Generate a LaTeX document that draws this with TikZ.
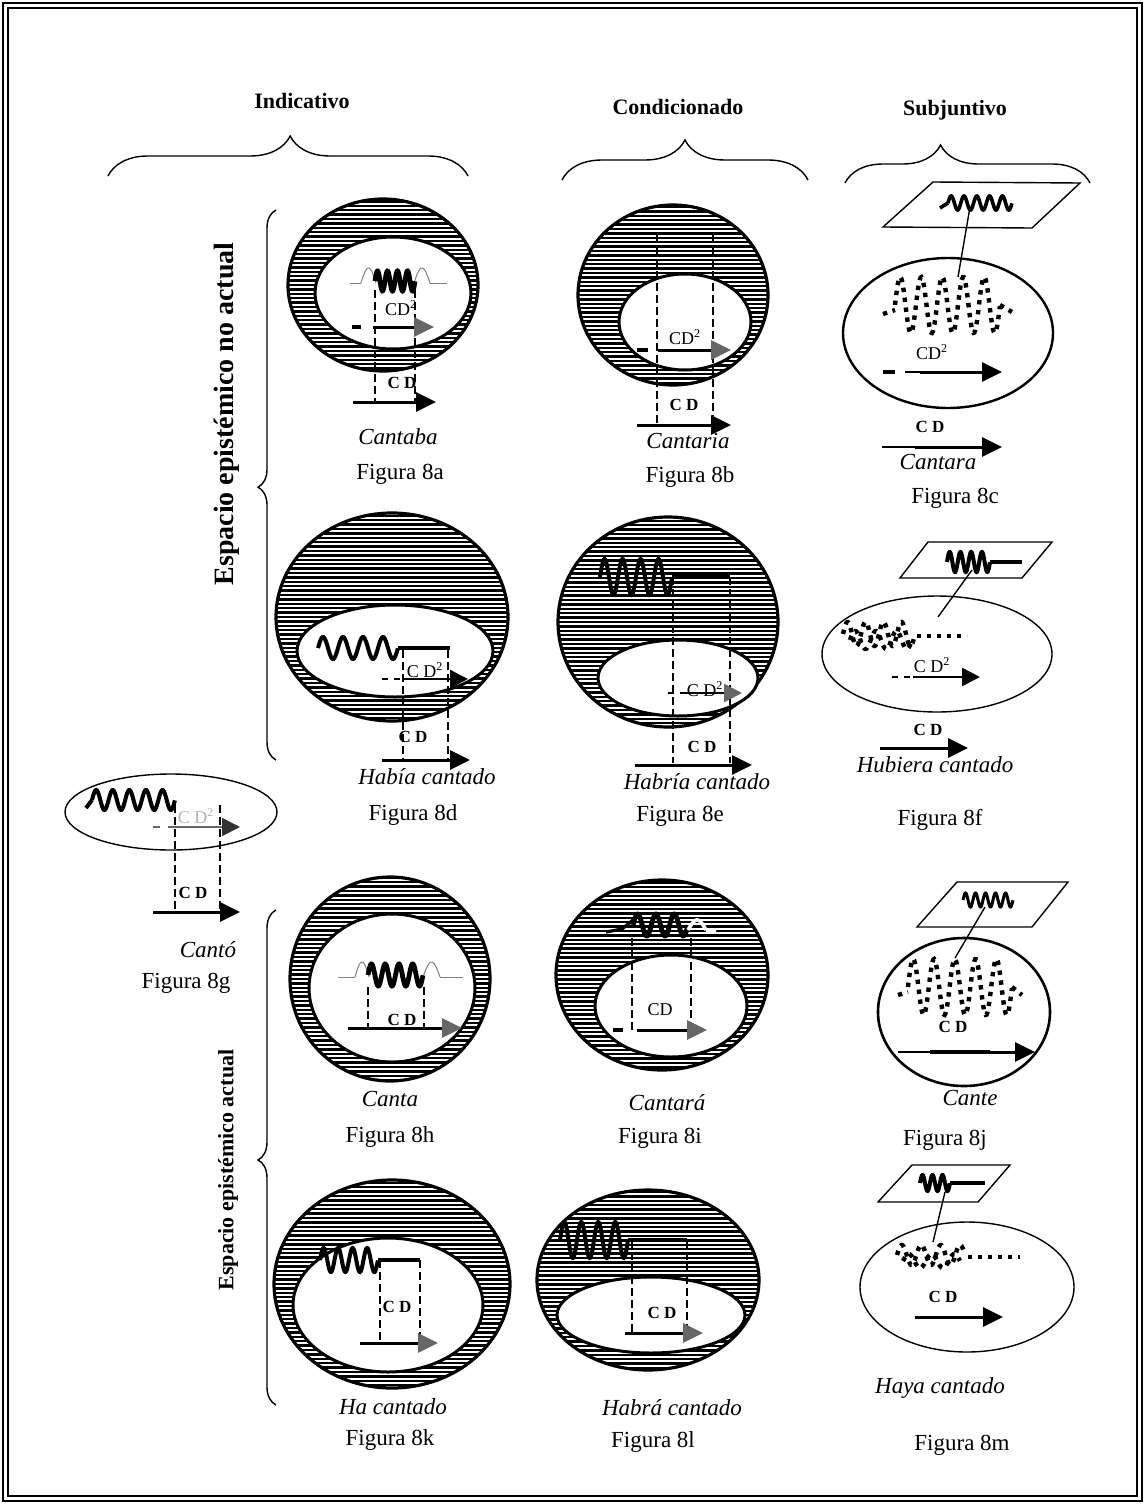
\documentclass[tikz,border=0pt]{standalone}
\usepackage{fontspec}
\setmainfont{Liberation Serif}
\usetikzlibrary{arrows.meta,decorations.pathreplacing}

\newcommand\hatchring[8]{%
 \begin{scope}
 \clip (#1,#2) ellipse [x radius=#3, y radius=#4];
 \foreach \k in {-26,...,26} \draw[line width=1.2pt] ({#1-#3},{#2+\k*4.4}) -- ({#1+#3},{#2+\k*4.4});
 \end{scope}
 \draw[line width=1.6pt] (#1,#2) ellipse [x radius=#3, y radius=#4];
 \fill[white] (#5,#6) ellipse [x radius=#7, y radius=#8];
 \draw[line width=1.5pt] (#5,#6) ellipse [x radius=#7, y radius=#8];
}
\newcommand\wv[6]{\draw[#6] plot[domain=0:1,samples=120] ({#1+(#2-#1)*\x},{#3-(#4)*sin(360*(#5)*\x)});}

\tikzset{
 arr/.style={line width=1.5pt,-{Triangle[length=10pt,width=9.5pt]}},
 arrg/.style={line width=1.5pt,-{Triangle[length=10pt,width=9.5pt,color=black!60]}},
 dsh/.style={line width=0.6pt,dash pattern=on 4pt off 2pt},
 dotw/.style={line width=2.2pt,dash pattern=on 2.2pt off 2.8pt},
 hdr/.style={font=\fontsize{11}{13}\selectfont\bfseries, inner sep=0},
 figl/.style={font=\fontsize{11.5}{13}\selectfont, inner sep=0},
 verb/.style={font=\fontsize{11.5}{13}\selectfont\itshape, inner sep=0},
 cdb/.style={font=\fontsize{8.5}{10}\selectfont\bfseries, inner sep=0},
 cdr/.style={font=\fontsize{9}{10}\selectfont, inner sep=0},
 thw/.style={line width=2pt},
 parl/.style={line width=0.7pt},
}

\begin{document}
\begin{tikzpicture}[x=0.5pt,y=-0.5pt]
\useasboundingbox (0,0) rectangle (1145,1504);
% frame
\draw[line width=0.8pt] (3,3) rectangle (1142,1501);
\draw[line width=0.8pt] (8,8) rectangle (1137,1496);

% headers
\node[hdr] (hInd) at (302,101) {Indicativo};
\node[hdr] (hCon) at (678,107) {Condicionado};
\node[hdr] (hSub) at (955,110) {Subjuntivo};

% braces
\draw[decorate,decoration={brace,amplitude=20pt,aspect=0.506},line width=0.7pt] (108,176) -- (468,176);
\draw[decorate,decoration={brace,amplitude=20pt,aspect=0.5},line width=0.7pt] (562,180) -- (808,180);
\draw[decorate,decoration={brace,amplitude=19pt,aspect=0.39},line width=0.7pt] (845,183) -- (1090,183);
\draw[decorate,decoration={brace,amplitude=9pt,aspect=0.496},line width=0.7pt] (276,760) -- (276,210);
\draw[decorate,decoration={brace,amplitude=9pt,aspect=0.495},line width=0.7pt] (276,1405) -- (276,910);
\node[hdr,rotate=90,font=\fontsize{14}{16}\selectfont\bfseries] (sNo) at (227,414) {Espacio epistémico no actual};
\node[hdr,rotate=90] (sAc) at (228,1170) {Espacio epistémico actual};

% ---------- 8a ----------
\hatchring{383}{285}{95}{86}{393}{293}{78}{56}
\draw[gray,line width=0.5pt] (350,283) -- (361,283);
\wv{361}{376}{283}{15}{0.5}{gray,line width=0.5pt}
\wv{414}{430}{283}{15}{0.5}{gray,line width=0.5pt}
\draw[gray,line width=0.5pt] (430,283) -- (447,283);
\wv{375}{415}{281}{10}{4}{line width=2.4pt}
\draw[dsh] (375,290) -- (375,402);
\draw[dsh] (415,290) -- (415,402);
\node[cdr] (a1) at (401,308) {CD\textsuperscript{2}};
\draw[line width=1.6pt] (352,327) -- (361,327);
\draw[arrg] (373,327) -- (434,327);
\node[cdb] (a2) at (402,383) {C D};
\draw[arr] (353,402) -- (436,402);
\node[verb] (a3) at (398,437) {Cantaba};
\node[figl] (a4) at (400,474) {Figura 8a};

% ---------- 8b ----------
\hatchring{673}{295}{95}{90}{685}{322}{66}{48}
\draw[dsh] (657,235) -- (657,423);
\draw[dsh] (713,235) -- (713,423);
\node[cdr] (b1) at (685,337) {CD\textsuperscript{2}};
\draw[line width=1.6pt] (637,350) -- (648,350);
\draw[arrg] (658,350) -- (731,350);
\node[cdb] (b2) at (684,405) {C D};
\draw[arr] (637,425) -- (731,425);
\node[verb] (b3) at (688,441) {Cantaria};
\node[figl] (b4) at (690,477) {Figura 8b};

% ---------- 8c ----------
\draw[parl] (933,182) -- (1080,183) -- (1032,228) -- (883,227) -- cycle;
\draw[line width=1.8pt] (940,208) -- (948,203);
\wv{948}{1012}{203}{7}{5}{line width=1.8pt}
\coordinate (c1) at (970,207);
\coordinate (c2) at (958,277);
\draw[line width=0.7pt] (c1) -- (c2);
\draw[line width=1.2pt] (948,333) ellipse [x radius=105, y radius=75];
\draw[dotw] (883,314) -- (895,310);
\wv{895}{1000}{305}{28}{5}{dotw}
\draw[dotw] (1000,305) -- (1012,312);
\node[cdr] (c3) at (932,352) {CD\textsuperscript{2}};
\draw[line width=1.6pt] (883,372) -- (895,372);
\draw[line width=1pt] (905,372) -- (925,372);
\draw[arr] (920,372) -- (1002,372);
\node[cdb] (c4) at (930,427) {C D};
\draw[line width=1pt] (882,447) -- (920,447);
\draw[arr] (915,447) -- (1002,447);
\node[verb] (c5) at (938,462) {Cantara};
\node[figl] (c6) at (955,498) {Figura 8c};

% ---------- 8d ----------
\hatchring{392}{617}{116}{104}{395}{651}{98}{46}
\wv{318}{398}{648}{11}{4}{thw}
\draw[thw] (398,648) -- (450,648);
\draw[dsh] (403,650) -- (403,760);
\draw[dsh] (448,650) -- (448,760);
\node[cdr] (d1) at (425,670) {C D\textsuperscript{2}};
\draw[line width=0.6pt,dashed] (382,679) -- (403,679);
\draw[line width=1.2pt,-{Triangle[length=9pt,width=9pt]}] (403,679) -- (468,679);
\node[cdb] (d2) at (413,737) {C D};
\draw[arr] (382,760) -- (470,760);
\node[verb] (d3) at (427,777) {Había cantado};
\node[figl] (d4) at (413,815) {Figura 8d};

% ---------- 8e ----------
\hatchring{668}{622}{110}{105}{678}{678}{80}{38}
\wv{600}{672}{577}{18}{4}{thw}
\draw[thw] (672,577) -- (730,577);
\draw[dsh] (673,577) -- (673,763);
\draw[dsh] (730,577) -- (730,763);
\node[cdr] (e1) at (705,689) {C D\textsuperscript{2}};
\draw[line width=1pt] (668,693) -- (674,693);
\draw[line width=1.2pt,-{Triangle[length=9pt,width=9pt,color=black!60]}] (680,693) -- (742,693);
\node[cdb] (e2) at (702,747) {C D};
\draw[arr] (635,765) -- (752,765);
\node[verb] (e3) at (697,782) {Habría cantado};
\node[figl] (e4) at (680,816) {Figura 8e};

% ---------- 8f ----------
\draw[parl] (928,542) -- (1052,542) -- (1022,578) -- (900,578) -- cycle;
\wv{947}{990}{562}{10}{4}{thw}
\draw[thw] (990,562) -- (1022,562);
\coordinate (f1) at (972,570);
\coordinate (f2) at (938,617);
\draw[line width=0.7pt] (f1) -- (f2);
\draw[line width=0.7pt] (937,654) ellipse [x radius=115, y radius=58];
\wv{843}{915}{634}{12}{4}{dotw}
\wv{850}{912}{640}{9}{3}{dotw}
\draw[dotw] (917,636) -- (967,636);
\node[cdr] (f3) at (932,665) {C D\textsuperscript{2}};
\draw[line width=0.6pt,dashed] (892,677) -- (913,677);
\draw[line width=1.3pt,-{Triangle[length=9pt,width=9pt]}] (913,677) -- (980,677);
\node[cdb] (f4) at (928,730) {C D};
\draw[arr] (880,748) -- (968,748);
\node[verb] (f5) at (935,765) {Hubiera cantado};
\node[figl] (f6) at (940,820) {Figura 8f};

% ---------- 8g ----------
\draw[line width=0.7pt] (171,812) ellipse [x radius=106, y radius=38];
\draw[thw] (86,808) -- (92,800);
\wv{92}{175}{800}{10}{5}{thw}
\draw[dsh] (175,805) -- (175,912);
\draw[dsh] (220,805) -- (220,912);
\node[cdr,text=black!30] (g1) at (196,816) {C D\textsuperscript{2}};
\draw[line width=0.8pt,black!60] (153,827) -- (160,827);
\draw[line width=0.8pt,black!60,-{Triangle[length=9pt,width=9pt,color=black!80]}] (168,827) -- (240,827);
\node[cdb] (g2) at (193,893) {C D};
\draw[arr] (153,912) -- (240,912);
\node[verb] (g3) at (208,950) {Cantó};
\node[figl] (g4) at (186,983) {Figura 8g};

% ---------- 8h ----------
\hatchring{390}{979}{100}{102}{392}{988}{83}{74}
\draw[gray,line width=0.5pt] (338,977) -- (355,977);
\wv{355}{369}{977}{15}{0.5}{gray,line width=0.5pt}
\wv{423}{440}{977}{15}{0.5}{gray,line width=0.5pt}
\draw[gray,line width=0.5pt] (440,977) -- (463,977);
\wv{368}{423}{975}{11}{4}{line width=2.4pt}
\draw[dsh] (368,987) -- (368,1027);
\draw[dsh] (424,987) -- (424,1027);
\node[cdb] (h1) at (402,1020) {C D};
\draw[arrg] (348,1028) -- (462,1028);
\node[verb] (h2) at (390,1099) {Canta};
\node[figl] (h3) at (390,1137) {Figura 8h};

% ---------- 8i ----------
\hatchring{662}{975}{106}{95}{671}{1006}{76}{51}
\draw[line width=1.6pt] (606,932) -- (622,929) -- (633,920);
\wv{633}{688}{925}{11}{3}{line width=2.4pt}
\wv{688}{706}{930}{10}{0.5}{white,line width=1.8pt}
\draw[white,line width=1.8pt] (706,930) -- (716,932);
\draw[dsh] (632,938) -- (632,1030);
\draw[dsh] (691,938) -- (691,1030);
\node[cdr] (i1) at (660,1010) {CD};
\draw[line width=1.6pt] (613,1030) -- (623,1030);
\draw[arrg] (637,1030) -- (707,1030);
\node[verb] (i2) at (667,1103) {Cantará};
\node[figl] (i3) at (660,1138) {Figura 8i};

% ---------- 8j ----------
\draw[parl] (957,882) -- (1068,882) -- (1032,927) -- (917,927) -- cycle;
\wv{963}{1013}{900}{7}{5}{line width=1.5pt}
\coordinate (j1) at (985,907);
\coordinate (j2) at (955,958);
\draw[line width=0.7pt] (j1) -- (j2);
\draw[line width=1.3pt] (964,1012) ellipse [x radius=86, y radius=74];
\draw[dotw] (898,995) -- (908,992);
\wv{908}{1012}{987}{28}{5}{dotw}
\draw[dotw] (1012,987) -- (1022,995);
\node[cdb] (j3) at (953,1027) {C D};
\draw[line width=1pt] (898,1052) -- (935,1052);
\draw[line width=2.4pt] (930,1052) -- (990,1052);
\draw[arr] (985,1052) -- (1035,1052);
\node[verb] (j4) at (970,1098) {Cante};
\node[figl] (j5) at (945,1140) {Figura 8j};

% ---------- 8k ----------
\hatchring{392}{1284}{118}{104}{388}{1305}{95}{67}
\wv{320}{378}{1260}{12}{4}{thw}
\draw[thw] (378,1260) -- (420,1260);
\draw[dsh] (380,1260) -- (380,1343);
\draw[dsh] (420,1260) -- (420,1343);
\node[cdb] (k1) at (397,1307) {C D};
\draw[arrg] (360,1343) -- (438,1343);
\node[verb] (k2) at (393,1407) {Ha cantado};
\node[figl] (k3) at (390,1440) {Figura 8k};

% ---------- 8l ----------
\hatchring{648}{1280}{111}{90}{651}{1315}{94}{38}
\wv{560}{628}{1240}{18}{4}{thw}
\draw[thw] (628,1240) -- (687,1240);
\draw[dsh] (632,1240) -- (632,1333);
\draw[dsh] (687,1240) -- (687,1333);
\node[cdb] (l1) at (662,1313) {C D};
\draw[arrg] (625,1333) -- (703,1333);
\node[verb] (l2) at (672,1408) {Habrá cantado};
\node[figl] (l3) at (653,1442) {Figura 8l};

% ---------- 8m ----------
\draw[parl] (912,1165) -- (1010,1165) -- (978,1202) -- (878,1202) -- cycle;
\wv{920}{950}{1183}{8}{3}{thw}
\draw[thw] (950,1183) -- (985,1183);
\coordinate (m1) at (945,1192);
\coordinate (m2) at (933,1242);
\draw[line width=0.7pt] (m1) -- (m2);
\draw[line width=0.7pt] (967,1287) ellipse [x radius=107, y radius=65];
\wv{897}{965}{1255}{10}{3.5}{dotw}
\wv{903}{960}{1261}{7}{2.5}{dotw}
\draw[dotw] (968,1257) -- (1020,1257);
\node[cdb] (m3) at (943,1297) {C D};
\draw[arr] (915,1317) -- (1003,1317);
\node[verb] (m4) at (940,1388) {Haya cantado};
\node[figl] (m5) at (962,1445) {Figura 8m};
\end{tikzpicture}
\end{document}
